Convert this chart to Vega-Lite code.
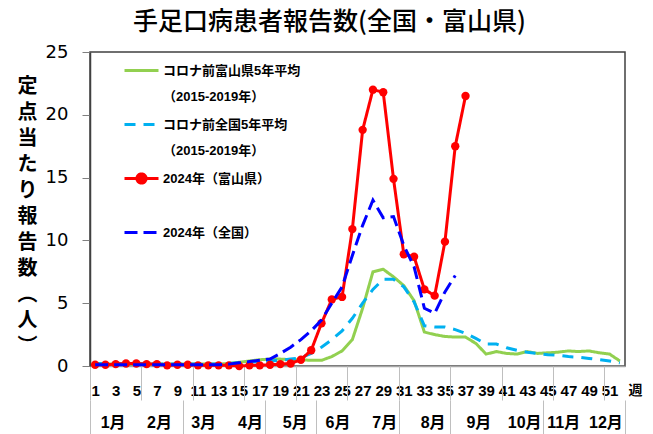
{
  "$schema": "https://vega.github.io/schema/vega-lite/v6.json",
  "width": 535,
  "height": 314,
  "autosize": {"type": "none"},
  "padding": {"left": 90, "top": 52, "right": 28, "bottom": 68},
  "background": "white",
  "title": {"text": "手足口病患者報告数(全国・富山県)", "font": "Noto Sans CJK JP", "fontSize": 25, "fontWeight": 500, "color": "#000000", "anchor": "middle", "frame": "bounds", "offset": 8},
  "config": {"view": {"stroke": "#404040", "strokeWidth": 1.5}},
  "data": {"values": [
    {"week": 1, "toyama_avg": 0.15, "national_avg": 0.2, "toyama_2024": 0.1, "national_2024": 0.1},
    {"week": 2, "toyama_avg": 0.15, "national_avg": 0.2, "toyama_2024": 0.1, "national_2024": 0.1},
    {"week": 3, "toyama_avg": 0.15, "national_avg": 0.2, "toyama_2024": 0.15, "national_2024": 0.1},
    {"week": 4, "toyama_avg": 0.15, "national_avg": 0.2, "toyama_2024": 0.2, "national_2024": 0.1},
    {"week": 5, "toyama_avg": 0.15, "national_avg": 0.2, "toyama_2024": 0.2, "national_2024": 0.1},
    {"week": 6, "toyama_avg": 0.15, "national_avg": 0.2, "toyama_2024": 0.15, "national_2024": 0.1},
    {"week": 7, "toyama_avg": 0.15, "national_avg": 0.15, "toyama_2024": 0.15, "national_2024": 0.1},
    {"week": 8, "toyama_avg": 0.15, "national_avg": 0.15, "toyama_2024": 0.05, "national_2024": 0.1},
    {"week": 9, "toyama_avg": 0.15, "national_avg": 0.15, "toyama_2024": 0.1, "national_2024": 0.1},
    {"week": 10, "toyama_avg": 0.15, "national_avg": 0.15, "toyama_2024": 0.1, "national_2024": 0.1},
    {"week": 11, "toyama_avg": 0.15, "national_avg": 0.15, "toyama_2024": 0.05, "national_2024": 0.1},
    {"week": 12, "toyama_avg": 0.15, "national_avg": 0.15, "toyama_2024": 0.05, "national_2024": 0.1},
    {"week": 13, "toyama_avg": 0.15, "national_avg": 0.15, "toyama_2024": 0.05, "national_2024": 0.1},
    {"week": 14, "toyama_avg": 0.2, "national_avg": 0.2, "toyama_2024": 0.05, "national_2024": 0.15},
    {"week": 15, "toyama_avg": 0.3, "national_avg": 0.25, "toyama_2024": 0.0, "national_2024": 0.25},
    {"week": 16, "toyama_avg": 0.4, "national_avg": 0.3, "toyama_2024": 0.05, "national_2024": 0.35},
    {"week": 17, "toyama_avg": 0.5, "national_avg": 0.35, "toyama_2024": 0.05, "national_2024": 0.45},
    {"week": 18, "toyama_avg": 0.55, "national_avg": 0.4, "toyama_2024": 0.1, "national_2024": 0.55},
    {"week": 19, "toyama_avg": 0.55, "national_avg": 0.45, "toyama_2024": 0.15, "national_2024": 1.0},
    {"week": 20, "toyama_avg": 0.5, "national_avg": 0.55, "toyama_2024": 0.2, "national_2024": 1.5},
    {"week": 21, "toyama_avg": 0.5, "national_avg": 0.65, "toyama_2024": 0.5, "national_2024": 2.1},
    {"week": 22, "toyama_avg": 0.45, "national_avg": 1.0, "toyama_2024": 1.25, "national_2024": 2.8},
    {"week": 23, "toyama_avg": 0.45, "national_avg": 1.5, "toyama_2024": 3.4, "national_2024": 3.65},
    {"week": 24, "toyama_avg": 0.75, "national_avg": 2.1, "toyama_2024": 5.3, "national_2024": 5.0},
    {"week": 25, "toyama_avg": 1.2, "national_avg": 2.8, "toyama_2024": 5.5, "national_2024": 6.3},
    {"week": 26, "toyama_avg": 2.1, "national_avg": 3.8, "toyama_2024": 10.9, "national_2024": 8.8},
    {"week": 27, "toyama_avg": 4.6, "national_avg": 5.0, "toyama_2024": 18.8, "national_2024": 11.2},
    {"week": 28, "toyama_avg": 7.5, "national_avg": 6.1, "toyama_2024": 22.0, "national_2024": 13.2},
    {"week": 29, "toyama_avg": 7.7, "national_avg": 6.9, "toyama_2024": 21.8, "national_2024": 11.8},
    {"week": 30, "toyama_avg": 7.1, "national_avg": 6.9, "toyama_2024": 14.9, "national_2024": 11.9},
    {"week": 31, "toyama_avg": 6.4, "national_avg": 6.3, "toyama_2024": 8.9, "national_2024": 9.6},
    {"week": 32, "toyama_avg": 5.2, "national_avg": 5.1, "toyama_2024": 8.7, "national_2024": 7.9},
    {"week": 33, "toyama_avg": 2.7, "national_avg": 3.2, "toyama_2024": 6.1, "national_2024": 4.6},
    {"week": 34, "toyama_avg": 2.5, "national_avg": 3.1, "toyama_2024": 5.6, "national_2024": 4.2},
    {"week": 35, "toyama_avg": 2.35, "national_avg": 3.1, "toyama_2024": 9.9, "national_2024": 5.9},
    {"week": 36, "toyama_avg": 2.3, "national_avg": 2.9, "toyama_2024": 17.5, "national_2024": 7.2},
    {"week": 37, "toyama_avg": 2.3, "national_avg": 2.6, "toyama_2024": 21.5},
    {"week": 38, "toyama_avg": 1.8, "national_avg": 2.2},
    {"week": 39, "toyama_avg": 0.95, "national_avg": 1.75},
    {"week": 40, "toyama_avg": 1.15, "national_avg": 1.75},
    {"week": 41, "toyama_avg": 1.0, "national_avg": 1.45},
    {"week": 42, "toyama_avg": 0.95, "national_avg": 1.25},
    {"week": 43, "toyama_avg": 1.15, "national_avg": 1.1},
    {"week": 44, "toyama_avg": 1.0, "national_avg": 1.0},
    {"week": 45, "toyama_avg": 1.05, "national_avg": 0.9},
    {"week": 46, "toyama_avg": 1.1, "national_avg": 0.85},
    {"week": 47, "toyama_avg": 1.2, "national_avg": 0.75},
    {"week": 48, "toyama_avg": 1.15, "national_avg": 0.7},
    {"week": 49, "toyama_avg": 1.2, "national_avg": 0.6},
    {"week": 50, "toyama_avg": 1.05, "national_avg": 0.5},
    {"week": 51, "toyama_avg": 0.95, "national_avg": 0.4},
    {"week": 52, "toyama_avg": 0.4, "national_avg": 0.25}
  ]},
  "transform": [{"fold": ["toyama_avg", "national_avg", "toyama_2024", "national_2024"], "as": ["series", "value"]}],
  "layer": [
    {
      "transform": [{"filter": "datum.series == 'toyama_avg' || datum.series == 'national_avg'"}],
      "mark": {"type": "line", "strokeWidth": 3},
      "encoding": {
        "x": {"field": "week", "type": "quantitative", "scale": {"domain": [0.5, 52.5], "nice": false, "zero": false},
          "axis": {"orient": "bottom", "values": [1, 3, 5, 7, 9, 11, 13, 15, 17, 19, 21, 23, 25, 27, 29, 31, 33, 35, 37, 39, 41, 43, 45, 47, 49, 51],
            "ticks": false, "tickSize": 0, "labelPadding": 17, "labelBaseline": "top", "labelFlush": false, "labelOverlap": false,
            "labelFont": "Liberation Sans", "labelFontSize": 15, "labelFontWeight": "bold", "labelColor": "#000000",
            "domainColor": "#a6a6a6", "domainWidth": 1.5, "grid": false,
            "title": "週", "titleFont": "Noto Sans CJK JP", "titleFontSize": 14, "titleFontWeight": "bold", "titleColor": "#000000",
            "titleAngle": 0, "titleX": 545, "titleY": 24, "titleBaseline": "middle", "titleAlign": "center"}},
        "y": {"field": "value", "type": "quantitative", "scale": {"domain": [0, 25], "nice": false},
          "axis": {"values": [0, 5, 10, 15, 20, 25], "grid": false, "tickSize": 8, "tickColor": "#808080", "domainColor": "#404040", "domainWidth": 1.5,
            "labelFont": "DejaVu Sans", "labelFontSize": 18, "labelColor": "#000000", "labelPadding": 14,
            "title": ["定", "点", "当", "た", "り", "報", "告", "数", "︵", "人", "︶"],
            "titleAngle": 0, "titleX": -63, "titleY": 24, "titleAlign": "center", "titleBaseline": "top",
            "titleFont": "Noto Sans CJK JP", "titleFontSize": 20, "titleFontWeight": "bold", "titleColor": "#000000", "titleLineHeight": 26}},
        "color": {"field": "series", "type": "nominal",
          "scale": {"domain": ["toyama_avg", "national_avg", "toyama_2024", "national_2024"], "range": ["#92D050", "#00B0F0", "#FF0000", "#0000FF"]},
          "legend": {"orient": "none", "legendX": 33, "legendY": 0, "title": null, "padding": 0,
            "symbolType": "stroke", "symbolSize": 1156, "symbolStrokeWidth": 3, "labelOffset": 3,
            "labelFont": "Liberation Sans, Noto Sans CJK JP", "labelFontSize": 13, "labelFontWeight": "bold", "labelColor": "#000000",
            "labelLimit": 400, "rowPadding": 2,
            "labelExpr": "datum.value == 'toyama_avg' ? ['コロナ前富山県5年平均', '（2015-2019年）'] : datum.value == 'national_avg' ? ['コロナ前全国5年平均', '（2015-2019年）'] : datum.value == 'toyama_2024' ? ['2024年（富山県）', ' '] : ['2024年（全国）', ' ']",
            "encode": {
              "symbols": {"update": {
                "shape": {"signal": "datum.value == 'toyama_2024' ? 'M-1,0H1M-0.27,0A0.27,0.27 0 1 1 0.27,0A0.27,0.27 0 1 1 -0.27,0' : 'stroke'"},
                "fill": {"signal": "datum.value == 'toyama_2024' ? '#FF0000' : 'transparent'"}}},
              "labels": {"update": {"lineHeight": {"value": 26}}}}}},
        "strokeDash": {"field": "series", "type": "nominal",
          "scale": {"domain": ["toyama_avg", "national_avg", "toyama_2024", "national_2024"], "range": [[1, 0], [11, 8], [1, 0], [13, 6]]}}
      }
    },
    {
      "transform": [{"filter": "datum.series == 'toyama_2024'"}],
      "mark": {"type": "line", "strokeWidth": 3},
      "encoding": {
        "x": {"field": "week", "type": "quantitative",
          "axis": {"orient": "bottom", "values": [0.5, 5.5, 10.5, 15.5, 20.5, 25.5, 30.5, 35.5, 40.5, 45.5, 50.5],
            "labels": false, "domain": false, "ticks": true, "tickSize": 34, "tickColor": "#bfbfbf", "tickWidth": 1, "grid": false, "title": null}},
        "y": {"field": "value", "type": "quantitative"},
        "color": {"field": "series", "type": "nominal"},
        "strokeDash": {"field": "series", "type": "nominal"}
      }
    },
    {
      "transform": [{"filter": "datum.series == 'toyama_2024'"}],
      "mark": {"type": "point", "filled": true, "size": 70, "color": "#FF0000", "opacity": 1},
      "encoding": {
        "x": {"field": "week", "type": "quantitative",
          "axis": {"orient": "bottom", "offset": 34, "values": [0.5, 9.5, 17.5, 22.5, 30.5, 35.5, 44.5, 52.5],
            "labels": false, "domain": false, "ticks": true, "tickSize": 40, "tickColor": "#bfbfbf", "tickWidth": 1, "grid": false, "title": null}},
        "y": {"field": "value", "type": "quantitative"}
      }
    },
    {
      "transform": [{"filter": "datum.series == 'national_2024'"}],
      "mark": {"type": "line", "strokeWidth": 3},
      "encoding": {
        "x": {"field": "week", "type": "quantitative",
          "axis": {"orient": "bottom", "offset": 34, "values": [2.7, 7.2, 11.5, 16.05, 20.4, 24.55, 29.1, 33.8, 38.25, 42.7, 46.5, 50.6],
            "labelExpr": "datum.value < 5 ? '1月' : datum.value < 9 ? '2月' : datum.value < 14 ? '3月' : datum.value < 18 ? '4月' : datum.value < 22 ? '5月' : datum.value < 27 ? '6月' : datum.value < 31 ? '7月' : datum.value < 36 ? '8月' : datum.value < 40 ? '9月' : datum.value < 44 ? '10月' : datum.value < 48 ? '11月' : '12月'",
            "domain": false, "ticks": false, "tickSize": 0, "labelPadding": 14, "labelBaseline": "top", "labelFlush": false, "labelOverlap": false,
            "labelFont": "Liberation Sans, Noto Sans CJK JP", "labelFontSize": 16, "labelFontWeight": "bold", "labelColor": "#000000", "grid": false, "title": null}},
        "y": {"field": "value", "type": "quantitative"},
        "color": {"field": "series", "type": "nominal"},
        "strokeDash": {"field": "series", "type": "nominal"}
      }
    }
  ],
  "resolve": {"axis": {"x": "independent"}}
}
